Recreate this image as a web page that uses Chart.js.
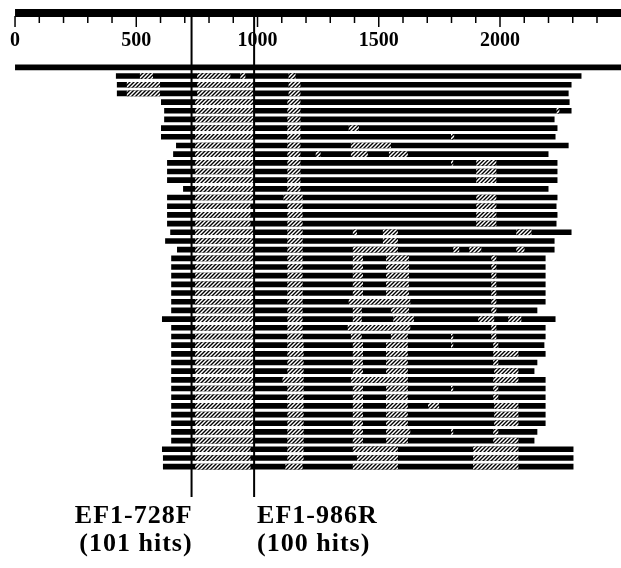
<!DOCTYPE html>
<html>
<head>
<meta charset="utf-8">
<script src="https://cdn.jsdelivr.net/npm/chart.js@4"></script>
<style>
  body { margin: 0; background: #fff; }
  #wrap { width: 621px; height: 568px; position: relative; }
</style>
</head>
<body>
<div id="wrap"><canvas id="chart"></canvas></div>
<script>
// ruler along the top (bp)
const rulerTicks = [0, 100, 200, 300, 400, 500, 600, 700, 800, 900, 1000, 1100, 1200,
                    1300, 1400, 1500, 1600, 1700, 1800, 1900, 2000, 2100, 2200, 2300, 2400];
const rulerLabels = [0, 500, 1000, 1500, 2000];
const queryLength = 2499;

// primer sites
const primerPos = [728, 986];
const primerNames = ['EF1-728F', 'EF1-986R'];
const primerHits = ['(101 hits)', '(100 hits)'];

// blast hits: start / end of each aligned stretch
const hitStart = [416, 420, 420, 602, 615, 615, 602, 602, 664, 652,
                  627, 627, 627, 693, 627, 627, 627, 627, 640, 619,
                  668, 644, 644, 644, 644, 644, 644, 644, 606, 644,
                  644, 644, 644, 644, 644, 644, 644, 644, 644, 644,
                  644, 644, 644, 606, 610, 610];
const hitEnd = [2336, 2295, 2283, 2287, 2295, 2225, 2237, 2229, 2283, 2200,
                2237, 2237, 2237, 2200, 2237, 2233, 2237, 2233, 2295, 2225,
                2225, 2188, 2188, 2188, 2188, 2188, 2188, 2154, 2229, 2188,
                2188, 2183, 2188, 2154, 2142, 2188, 2188, 2188, 2188, 2188,
                2188, 2154, 2142, 2303, 2303, 2303];

// hatched (low similarity) stretches in each hit
const hitGaps = [
  [[515, 569], [751, 888], [929, 950], [1128, 1157]],
  [[461, 598], [751, 983], [1128, 1177]],
  [[461, 598], [751, 983], [1128, 1177]],
  [[743, 983], [1123, 1177]],
  [[743, 983], [1123, 1177], [2233, 2245]],
  [[743, 983], [1123, 1177]],
  [[743, 983], [1123, 1177], [1376, 1418]],
  [[743, 983], [1123, 1177], [1798, 1811]],
  [[743, 983], [1123, 1177], [1385, 1550]],
  [[743, 983], [1123, 1177], [1240, 1260], [1385, 1455], [1542, 1620]],
  [[743, 983], [1123, 1177], [1798, 1807], [1902, 1985]],
  [[743, 983], [1123, 1177], [1902, 1985]],
  [[743, 983], [1123, 1177], [1902, 1985]],
  [[743, 983], [1123, 1177]],
  [[743, 983], [1107, 1186], [1902, 1985]],
  [[743, 971], [1123, 1186], [1902, 1985]],
  [[743, 971], [1123, 1186], [1902, 1985]],
  [[743, 971], [1123, 1186], [1902, 1985]],
  [[743, 983], [1123, 1186], [1393, 1410], [1517, 1579], [2067, 2130]],
  [[743, 983], [1123, 1186], [1517, 1579]],
  [[743, 983], [1123, 1186], [1393, 1579], [1807, 1832], [1873, 1923], [2067, 2101]],
  [[743, 983], [1123, 1186], [1393, 1435], [1530, 1625], [1964, 1985]],
  [[743, 983], [1123, 1186], [1393, 1435], [1530, 1625], [1964, 1985]],
  [[743, 983], [1123, 1186], [1393, 1435], [1530, 1625], [1964, 1985]],
  [[743, 983], [1123, 1186], [1393, 1435], [1530, 1625], [1964, 1985]],
  [[743, 983], [1123, 1186], [1393, 1435], [1530, 1625], [1964, 1985]],
  [[743, 983], [1123, 1186], [1376, 1630], [1964, 1985]],
  [[743, 983], [1123, 1186], [1393, 1430], [1550, 1625], [1964, 1985]],
  [[743, 983], [1123, 1186], [1393, 1430], [1560, 1645], [1910, 1976], [2034, 2088]],
  [[743, 983], [1123, 1186], [1372, 1630], [1964, 1985]],
  [[743, 983], [1123, 1186], [1385, 1430], [1550, 1620], [1798, 1807], [1964, 1985]],
  [[743, 983], [1123, 1190], [1393, 1435], [1530, 1620], [1798, 1807], [1972, 1993]],
  [[743, 983], [1123, 1190], [1393, 1435], [1530, 1620], [1972, 2076]],
  [[743, 983], [1123, 1190], [1393, 1435], [1530, 1620], [1972, 1993]],
  [[743, 983], [1123, 1190], [1393, 1435], [1530, 1620], [1976, 2076]],
  [[743, 983], [1103, 1190], [1385, 1620], [1972, 2076]],
  [[743, 983], [1123, 1190], [1393, 1435], [1530, 1620], [1798, 1807], [1972, 1993]],
  [[743, 983], [1123, 1190], [1393, 1435], [1530, 1620], [1972, 1993]],
  [[743, 983], [1123, 1190], [1393, 1435], [1530, 1620], [1703, 1749], [1976, 2076]],
  [[743, 983], [1123, 1190], [1393, 1435], [1530, 1620], [1976, 2076]],
  [[743, 983], [1123, 1190], [1393, 1435], [1530, 1620], [1976, 2076]],
  [[743, 983], [1123, 1190], [1393, 1435], [1530, 1630], [1798, 1807], [1972, 1993]],
  [[743, 983], [1123, 1190], [1393, 1435], [1530, 1620], [1972, 2076]],
  [[743, 971], [1123, 1190], [1393, 1579], [1889, 2076]],
  [[743, 971], [1123, 1190], [1410, 1579], [1889, 2076]],
  [[743, 971], [1115, 1186], [1393, 1579], [1889, 2076]]
];

const rowLabels = ['query'].concat(hitStart.map((_, i) => 'hit ' + (i + 1)));

// "////" hatch tile
function makeHatch() {
  const c = document.createElement('canvas');
  c.width = 4; c.height = 4;
  const g = c.getContext('2d');
  g.fillStyle = '#fff';
  g.fillRect(0, 0, 4, 4);
  g.strokeStyle = '#000';
  g.lineWidth = 1.4;
  g.beginPath();
  g.moveTo(0, 4); g.lineTo(4, 0);
  g.moveTo(-1, 1); g.lineTo(1, -1);
  g.moveTo(3, 5); g.lineTo(5, 3);
  g.stroke();
  return g.createPattern(c, 'repeat');
}
const hatch = makeHatch();

const spans = [[0, queryLength]].concat(hitStart.map((s, i) => [s, hitEnd[i]]));
const maxGaps = Math.max(...hitGaps.map(g => g.length));
const gapSets = [];
for (let k = 0; k < maxGaps; k++) {
  gapSets.push({
    data: [null].concat(hitGaps.map(g => g[k] || null)),
    backgroundColor: hatch,
    order: 1
  });
}

const rulerPlugin = {
  id: 'ruler',
  afterDraw(chart) {
    const ctx = chart.ctx;
    const x = chart.scales.x;
    const x0 = x.getPixelForValue(0);
    ctx.save();
    ctx.fillStyle = '#000';
    ctx.strokeStyle = '#000';
    ctx.fillRect(x0, 9, chart.width - x0, 8);
    ctx.lineWidth = 1.5;
    rulerTicks.forEach(v => {
      const px = x.getPixelForValue(v);
      const len = v % 500 === 0 ? 10 : 6;
      ctx.beginPath(); ctx.moveTo(px, 16); ctx.lineTo(px, 17 + len); ctx.stroke();
    });
    ctx.font = 'bold 20px "Liberation Serif"';
    ctx.textAlign = 'center';
    ctx.textBaseline = 'alphabetic';
    rulerLabels.forEach(v => ctx.fillText(String(v), x.getPixelForValue(v), 45.5));

    // primer lines + names
    ctx.lineWidth = 2;
    ctx.font = 'bold 26px "Liberation Serif"';
    ctx.letterSpacing = '1px';
    primerPos.forEach((v, i) => {
      const px = x.getPixelForValue(v);
      ctx.beginPath(); ctx.moveTo(px, 17); ctx.lineTo(px, 497); ctx.stroke();
      const left = i === 0;
      ctx.textAlign = left ? 'right' : 'left';
      const tx = left ? px + 1 : px + 3;
      ctx.fillText(primerNames[i], tx, 523);
      ctx.fillText(primerHits[i], tx, 551);
    });
    ctx.restore();
  }
};

new Chart(document.getElementById('chart'), {
  type: 'bar',
  data: {
    labels: rowLabels,
    datasets: gapSets.concat([{ data: spans, backgroundColor: '#000', order: 10 }])
  },
  options: {
    indexAxis: 'y',
    responsive: true,
    maintainAspectRatio: false,
    animation: false,
    layout: { padding: { top: 63, bottom: 97, left: 0, right: 0 } },
    datasets: { bar: { grouped: false, barPercentage: 0.65, categoryPercentage: 1 } },
    plugins: { legend: { display: false }, tooltip: { enabled: false } },
    scales: {
      x: { display: false, min: -62, max: 2499 },
      y: { display: false }
    }
  },
  plugins: [rulerPlugin]
});
</script>
</body>
</html>
